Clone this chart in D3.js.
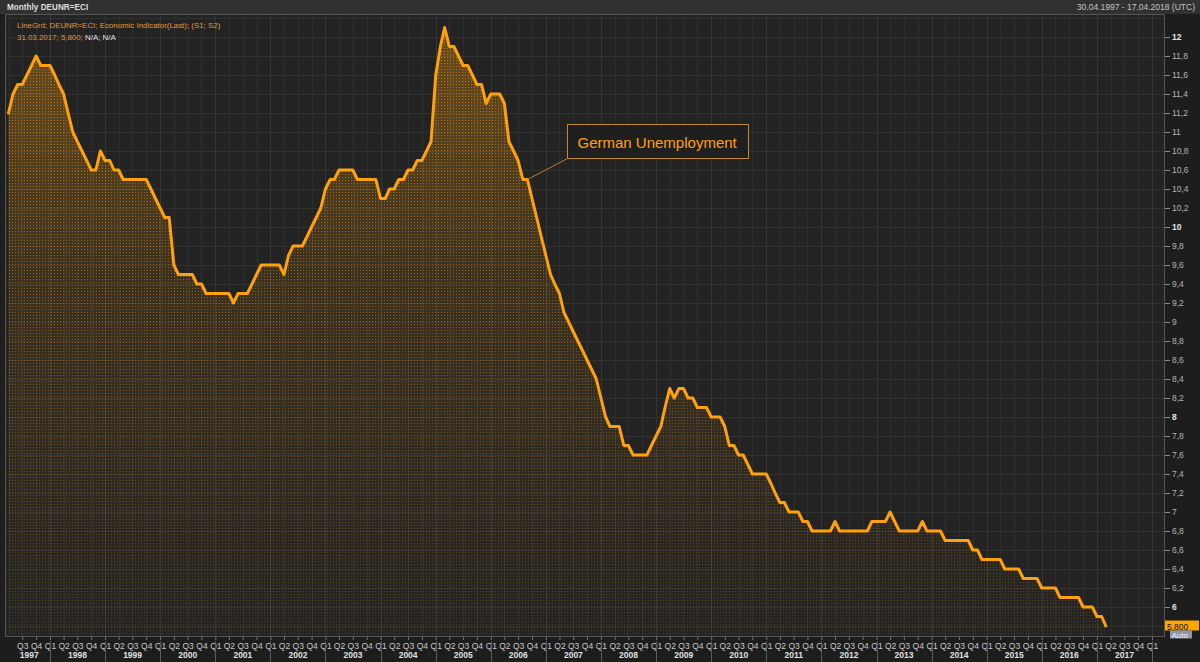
<!DOCTYPE html>
<html><head><meta charset="utf-8">
<script src="https://cdn.jsdelivr.net/npm/d3@7"></script>
<style>
html,body{margin:0;padding:0;background:#1e1e1e;}
svg{display:block;}
</style></head><body>
<svg id="chart" width="1200" height="662"></svg>
<script>
// ---------------- DATA ----------------
const startMonth = "1997-04-01"; // first monthly observation
const values = [
  // 1997 Apr-Dec
  11.2, 11.4, 11.5, 11.5, 11.6, 11.7, 11.8, 11.7, 11.7,
  // 1998
  11.7, 11.6, 11.5, 11.4, 11.2, 11.0, 10.9, 10.8, 10.7, 10.6, 10.6, 10.8,
  // 1999
  10.7, 10.7, 10.6, 10.6, 10.5, 10.5, 10.5, 10.5, 10.5, 10.5, 10.4, 10.3,
  // 2000
  10.2, 10.1, 10.1, 9.6, 9.5, 9.5, 9.5, 9.5, 9.4, 9.4, 9.3, 9.3,
  // 2001
  9.3, 9.3, 9.3, 9.3, 9.2, 9.3, 9.3, 9.3, 9.4, 9.5, 9.6, 9.6,
  // 2002
  9.6, 9.6, 9.6, 9.5, 9.7, 9.8, 9.8, 9.8, 9.9, 10.0, 10.1, 10.2,
  // 2003
  10.4, 10.5, 10.5, 10.6, 10.6, 10.6, 10.6, 10.5, 10.5, 10.5, 10.5, 10.5,
  // 2004
  10.3, 10.3, 10.4, 10.4, 10.5, 10.5, 10.6, 10.6, 10.7, 10.7, 10.8, 10.9,
  // 2005
  11.6, 11.9, 12.1, 11.9, 11.9, 11.8, 11.7, 11.7, 11.6, 11.5, 11.5, 11.3,
  // 2006
  11.4, 11.4, 11.4, 11.3, 10.9, 10.8, 10.7, 10.5, 10.5, 10.3, 10.1, 9.9,
  // 2007
  9.7, 9.5, 9.4, 9.3, 9.1, 9.0, 8.9, 8.8, 8.7, 8.6, 8.5, 8.4,
  // 2008
  8.2, 8.0, 7.9, 7.9, 7.9, 7.7, 7.7, 7.6, 7.6, 7.6, 7.6, 7.7,
  // 2009
  7.8, 7.9, 8.1, 8.3, 8.2, 8.3, 8.3, 8.2, 8.2, 8.1, 8.1, 8.1,
  // 2010
  8.0, 8.0, 8.0, 7.9, 7.7, 7.7, 7.6, 7.6, 7.5, 7.4, 7.4, 7.4,
  // 2011
  7.4, 7.3, 7.2, 7.1, 7.1, 7.0, 7.0, 7.0, 6.9, 6.9, 6.8, 6.8,
  // 2012
  6.8, 6.8, 6.8, 6.9, 6.8, 6.8, 6.8, 6.8, 6.8, 6.8, 6.8, 6.9,
  // 2013
  6.9, 6.9, 6.9, 7.0, 6.9, 6.8, 6.8, 6.8, 6.8, 6.8, 6.9, 6.8,
  // 2014
  6.8, 6.8, 6.8, 6.7, 6.7, 6.7, 6.7, 6.7, 6.7, 6.6, 6.6, 6.5,
  // 2015
  6.5, 6.5, 6.5, 6.5, 6.4, 6.4, 6.4, 6.4, 6.3, 6.3, 6.3, 6.3,
  // 2016
  6.2, 6.2, 6.2, 6.2, 6.1, 6.1, 6.1, 6.1, 6.1, 6.0, 6.0, 6.0,
  // 2017 Jan-Mar
  5.9, 5.9, 5.8
];
const yTicks = [6, 6.2, 6.4, 6.6, 6.8, 7, 7.2, 7.4, 7.6, 7.8, 8, 8.2, 8.4, 8.6, 8.8,
                9, 9.2, 9.4, 9.6, 9.8, 10, 10.2, 10.4, 10.6, 10.8, 11, 11.2, 11.4, 11.6, 11.8, 12];
const yearLabels = [1997, 1998, 1999, 2000, 2001, 2002, 2003, 2004, 2005, 2006, 2007,
                    2008, 2009, 2010, 2011, 2012, 2013, 2014, 2015, 2016, 2017];
const quarterNames = ["Q1", "Q2", "Q3", "Q4"];
const headerTitle = "Monthly DEUNR=ECI";
const headerRange = "30.04.1997 - 17.04.2018 (UTC)";
const legendLine1 = "LineGrd; DEUNR=ECI; Economic Indicator(Last); (S1; S2)";
const legendLine2a = "31.03.2017; 5,800;";
const legendLine2b = " N/A; N/A";
const annotationText = "German Unemployment";
const annotationIndex = 113;
const lastValueLabel = "5,800";
const autoLabel = "Auto";

// ---------------- LAYOUT ----------------
const W = 1200, H = 662;
const plot = {left: 5, right: 1165, top: 14, bottom: 637};
const ORANGE = "#ffa10e";
const FONT = "'Liberation Sans', Arial, sans-serif";

const parse = d3.timeParse("%Y-%m-%d");
const t0 = parse(startMonth);
const data = values.map((v, i) => ({date: d3.timeMonth.offset(t0, i), value: v}));

const x = d3.scaleTime()
  .domain([new Date(1998, 0, 1), new Date(2018, 0, 1)])
  .range([50, 1152]);
const y = d3.scaleLinear().domain([8, 12]).range([417, 37]);

const svg = d3.select("#chart");

// background pieces
svg.append("rect").attr("x", 0).attr("y", 0).attr("width", W).attr("height", H).attr("fill", "#1d1d1d");
svg.append("rect").attr("x", 0).attr("y", 0).attr("width", W).attr("height", plot.top).attr("fill", "#313131");
svg.append("rect").attr("x", plot.left).attr("y", plot.top)
  .attr("width", plot.right - plot.left).attr("height", plot.bottom - plot.top)
  .attr("fill", "#232323");

const defs = svg.append("defs");
defs.append("clipPath").attr("id", "clip").append("rect")
  .attr("x", plot.left).attr("y", plot.top)
  .attr("width", plot.right - plot.left).attr("height", plot.bottom - plot.top);

// gradients / patterns for area
const grad = defs.append("linearGradient").attr("id", "fillGrad")
  .attr("gradientUnits", "userSpaceOnUse")
  .attr("x1", 0).attr("x2", 0).attr("y1", plot.top).attr("y2", plot.bottom);
grad.append("stop").attr("offset", "0%").attr("stop-color", ORANGE).attr("stop-opacity", 0.34);
grad.append("stop").attr("offset", "40%").attr("stop-color", ORANGE).attr("stop-opacity", 0.12);
grad.append("stop").attr("offset", "100%").attr("stop-color", ORANGE).attr("stop-opacity", 0.0);

const pat = defs.append("pattern").attr("id", "dots")
  .attr("patternUnits", "userSpaceOnUse").attr("width", 3).attr("height", 3);
pat.append("rect").attr("x", 0).attr("y", 0).attr("width", 1).attr("height", 1).attr("fill", ORANGE);

const maskGrad = defs.append("linearGradient").attr("id", "maskGrad")
  .attr("gradientUnits", "userSpaceOnUse")
  .attr("x1", 0).attr("x2", 0).attr("y1", plot.top).attr("y2", plot.bottom);
maskGrad.append("stop").attr("offset", "0%").attr("stop-color", "#fff").attr("stop-opacity", 0.55);
maskGrad.append("stop").attr("offset", "100%").attr("stop-color", "#fff").attr("stop-opacity", 0.22);
defs.append("mask").attr("id", "dotMask").append("rect")
  .attr("x", 0).attr("y", 0).attr("width", W).attr("height", H).attr("fill", "url(#maskGrad)");

// grid
const grid = svg.append("g").attr("clip-path", "url(#clip)");
const gridY = d3.range(58, 124, 2).map(d => d / 10);
grid.selectAll("line.h").data(gridY).join("line")
  .attr("x1", plot.left).attr("x2", plot.right)
  .attr("y1", d => Math.round(y(d)) + 0.5).attr("y2", d => Math.round(y(d)) + 0.5)
  .attr("stroke", "#313131").attr("stroke-width", 1);
const gridQ = d3.timeMonth.every(3).range(x.invert(plot.left), x.invert(plot.right));
grid.selectAll("line.v").data(gridQ).join("line")
  .attr("x1", d => Math.round(x(d)) + 0.5).attr("x2", d => Math.round(x(d)) + 0.5)
  .attr("y1", plot.top).attr("y2", plot.bottom)
  .attr("stroke", d => d.getMonth() === 0 ? "#363636" : "#2e2e2e").attr("stroke-width", 1);

// area + line
const area = d3.area().x(d => x(d.date)).y0(plot.bottom).y1(d => y(d.value));
const line = d3.line().x(d => x(d.date)).y(d => y(d.value));
const gData = svg.append("g").attr("clip-path", "url(#clip)");
gData.append("path").datum(data).attr("d", area).attr("fill", "url(#fillGrad)");
gData.append("path").datum(data).attr("d", area).attr("fill", "url(#dots)").attr("mask", "url(#dotMask)");
gData.append("path").datum(data).attr("d", line).attr("fill", "none")
  .attr("stroke", ORANGE).attr("stroke-width", 3).attr("stroke-linejoin", "round").attr("stroke-linecap", "round");

// plot frame
svg.append("rect").attr("x", plot.left + 0.5).attr("y", plot.top + 0.5)
  .attr("width", plot.right - plot.left - 1).attr("height", plot.bottom - plot.top - 1)
  .attr("fill", "none").attr("stroke", "#555").attr("stroke-width", 1);

// y axis (right)
const fmt = d => (Math.round(d * 10) / 10).toString().replace(".", ",");
const yAxis = d3.axisRight(y).tickValues(yTicks).tickSize(5).tickPadding(2).tickFormat(fmt);
const gy = svg.append("g").attr("transform", `translate(${plot.right},0)`).call(yAxis);
gy.select(".domain").remove();
gy.selectAll(".tick line").attr("stroke", "#8a8a8a");
gy.selectAll(".tick text")
  .attr("fill", d => (Number.isInteger(d) && d % 2 === 0) ? "#e6e6e6" : "#b4b4b4")
  .attr("font-weight", d => (Number.isInteger(d) && d % 2 === 0) ? "bold" : "normal")
  .attr("font-family", FONT).attr("font-size", 8.5);

// x axis: quarters
const qTicks = gridQ.filter(d => x(d) > 15 && x(d) < plot.right - 5);
const xAxis = d3.axisBottom(x).tickValues(qTicks).tickSize(3).tickPadding(3)
  .tickFormat(d => quarterNames[Math.floor(d.getMonth() / 3)]);
const gx = svg.append("g").attr("transform", `translate(0,${plot.bottom})`).call(xAxis);
gx.select(".domain").remove();
gx.selectAll(".tick line").attr("stroke", "#777");
gx.selectAll(".tick text").attr("fill", "#c8c8c8").attr("font-family", FONT).attr("font-size", 8.5);

// year separators and labels
const yearStarts = yearLabels.slice(1).concat([yearLabels[yearLabels.length - 1] + 1]).map(yy => new Date(yy, 0, 1));
svg.selectAll("line.ysep").data(yearStarts).join("line")
  .attr("x1", d => Math.round(x(d)) + 0.5).attr("x2", d => Math.round(x(d)) + 0.5)
  .attr("y1", plot.bottom + 4).attr("y2", H)
  .attr("stroke", "#5a5a5a");
svg.selectAll("text.year").data(yearLabels).join("text")
  .attr("x", yy => {
    const a = Math.max(x(new Date(yy, 0, 1)), x(t0));
    const b = x(new Date(yy + 1, 0, 1));
    return (a + b) / 2;
  })
  .attr("y", 658).attr("text-anchor", "middle")
  .attr("fill", "#e0e0e0").attr("font-weight", "bold")
  .attr("font-family", FONT).attr("font-size", 8.5)
  .text(yy => yy);

// header
svg.append("text").attr("x", 7).attr("y", 10).attr("fill", "#dedede")
  .attr("font-weight", "bold").attr("font-family", FONT).attr("font-size", 8.2).text(headerTitle);
svg.append("text").attr("x", 1195).attr("y", 10).attr("text-anchor", "end").attr("fill", "#c4c4c4")
  .attr("font-family", FONT).attr("font-size", 8.5).text(headerRange);

// legend
svg.append("text").attr("x", 17).attr("y", 28).attr("fill", "#e8962a")
  .attr("font-family", FONT).attr("font-size", 7.9).text(legendLine1);
const l2 = svg.append("text").attr("x", 17).attr("y", 40)
  .attr("font-family", FONT).attr("font-size", 7.9);
l2.append("tspan").attr("fill", "#e8962a").text(legendLine2a);
l2.append("tspan").attr("fill", "#e6e6e6").text(legendLine2b);

// annotation
const ap = data[annotationIndex];
const ax = x(ap.date), ay = y(ap.value);
const box = {x: Math.round(ax) + 40.5, y: Math.round(ay) - 55.5, w: 181, h: 34};
svg.append("line").attr("x1", ax).attr("y1", ay).attr("x2", box.x).attr("y2", box.y + box.h)
  .attr("stroke", "#b4802e").attr("stroke-width", 1);
svg.append("rect").attr("x", box.x).attr("y", box.y).attr("width", box.w).attr("height", box.h)
  .attr("fill", "#1f1f1f").attr("stroke", "#c08a30").attr("stroke-width", 1);
svg.append("text").attr("x", box.x + 10).attr("y", box.y + 23).attr("fill", ORANGE)
  .attr("font-family", FONT).attr("font-size", 15).text(annotationText);

// last value tag
const last = data[data.length - 1];
const ly = y(last.value);
svg.append("rect").attr("x", plot.right).attr("y", ly - 5.5).attr("width", 34).attr("height", 10)
  .attr("fill", "#ffa500");
svg.append("text").attr("x", plot.right + 2).attr("y", ly + 3.5).attr("fill", "#111")
  .attr("font-family", FONT).attr("font-size", 8.5).text(lastValueLabel);
svg.append("rect").attr("x", plot.right + 5).attr("y", ly + 4.5).attr("width", 22).attr("height", 8)
  .attr("fill", "#8d96aa");
svg.append("text").attr("x", plot.right + 6.5).attr("y", ly + 11.5).attr("fill", "#f2f2f2")
  .attr("font-family", FONT).attr("font-size", 8).text(autoLabel);
</script>
</body></html>
